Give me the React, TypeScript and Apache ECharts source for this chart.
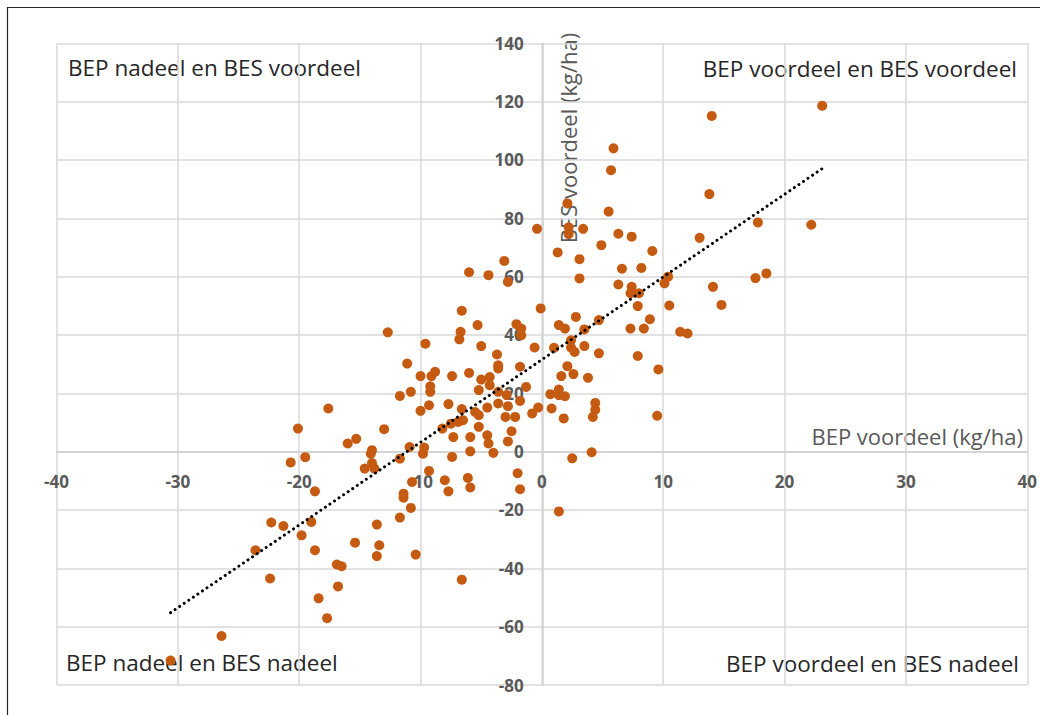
import React, { useEffect, useRef } from "react";
import * as echarts from "echarts";

// BEP voordeel (kg/ha) per point
const bepVoordeel: number[] = [
  23.1, 14.0, 5.9, 5.7, 13.8, 2.1, 5.5, -0.4, 2.2, 2.2, 3.4, 6.3, 7.4, 13.0, 4.9, 1.3, 9.1, 3.1, -3.1, 17.8,
  22.2, 17.6, 18.5, 14.8, 6.6, 8.2, 3.1, -4.4, -2.8, 10.4, 10.1, 14.1, 6.3, 7.4, 7.3, 8.0, 7.9, 10.5, -0.1, 8.9,
  2.8, 4.7, -2.1, 1.4, 1.9, -1.7, 3.5, -1.7, 7.3, 8.4, 11.4, 12.0, -0.6, 1.0, 2.4, 2.4, 2.7, 3.5, 4.7, 7.9,
  -3.7, -3.6, -3.6, -1.8, 2.1, 2.6, 1.6, 3.8, 9.6, -4.3, -1.3, -4.3, -3.6, 0.7, 1.4, 1.4, 1.9, -2.9, -1.8, -3.6,
  -2.8, -0.3, 0.8, -0.8, 4.4, 4.4, 4.2, 9.5, 1.8, -3.0, -2.2, -6.0, -6.6, -5.3, -6.7, -6.8, -12.7, -9.6, -5.0, -11.1,
  -10.0, -9.1, -8.8, -7.4, -6.0, -5.0, -9.2, -9.2, -11.7, -10.8, -5.2, -17.6, -10.0, -9.3, -7.7, -6.6, -5.5, -5.2, -4.5, -20.1,
  -13.0, -16.0, -15.3, -14.0, -14.1, -20.7, -19.5, -14.0, -14.6, -13.8, -11.7, -10.9, -9.8, -9.7, -8.2, -7.5, -6.9, -6.5, -5.2, -7.3,
  -5.9, -4.5, -4.4, -4.0, -5.9, -7.4, -9.3, -10.7, -8.0, -7.7, -6.1, -5.9, -18.7, -11.4, -11.4, -10.8, -11.7, -22.3, -21.3, -19.0,
  -19.8, -13.6, -18.7, -15.4, -13.4, -13.6, -10.4, -16.9, -16.5, -6.6, -22.4, -23.6, -16.8, -18.4, -17.7, -26.4, -30.6, -2.0, -1.8, 2.5,
  4.1, 1.4, -2.8, -2.5,
];

// BES voordeel (kg/ha) per point
const besVoordeel: number[] = [
  118.6, 115.1, 104.0, 96.5, 88.3, 85.1, 82.3, 76.4, 76.9, 74.6, 76.4, 74.7, 73.7, 73.3, 70.8, 68.3, 68.8, 66.0, 65.4, 78.6,
  77.8, 59.5, 61.1, 50.3, 62.7, 63.0, 59.4, 60.5, 58.2, 60.0, 57.7, 56.5, 57.3, 56.5, 54.3, 54.3, 49.9, 50.1, 49.1, 45.4,
  46.2, 45.1, 43.7, 43.4, 42.2, 42.2, 41.9, 39.9, 42.2, 42.2, 41.1, 40.5, 35.7, 35.6, 38.2, 35.7, 34.2, 36.2, 33.7, 32.8,
  33.3, 29.6, 28.5, 29.1, 29.3, 26.6, 25.9, 25.3, 28.2, 25.6, 22.2, 22.8, 20.5, 19.7, 21.3, 19.4, 19.0, 19.4, 17.4, 16.5,
  15.6, 15.1, 14.8, 13.1, 16.7, 14.4, 11.9, 12.3, 11.4, 11.9, 11.9, 61.5, 48.3, 43.4, 41.1, 38.5, 40.9, 37.0, 36.2, 30.2,
  25.9, 25.9, 27.4, 25.9, 27.0, 24.7, 22.4, 20.5, 19.1, 20.5, 21.1, 14.8, 14.0, 15.9, 16.3, 14.6, 13.6, 12.5, 15.1, 7.9,
  7.7, 2.8, 4.4, 0.5, -0.7, -3.7, -1.9, -3.9, -5.8, -5.8, -2.4, 1.6, -0.7, 1.4, 7.9, 9.6, 10.2, 10.8, 8.5, 5.0,
  5.0, 5.6, 2.8, -0.4, 0.1, -1.8, -6.6, -10.4, -9.8, -13.6, -9.0, -12.3, -13.6, -14.4, -15.8, -19.3, -22.6, -24.3, -25.5, -24.1,
  -28.7, -25.0, -33.8, -31.2, -32.1, -35.8, -35.3, -38.7, -39.3, -43.9, -43.5, -33.8, -46.2, -50.3, -57.1, -63.2, -71.6, -7.4, -12.9, -2.3,
  -0.2, -20.5, 3.5, 7.0,
];

// Linear trend line end points [BEP, BES]
const trendStart: number[] = [-30.6, -55.2];
const trendEnd: number[] = [23.3, 97.6];

const xTicks = { min: -40, max: 40, step: 10 };
const yTicks = { min: -80, max: 140, step: 20 };

const xTitle = "BEP voordeel (kg/ha)";
const yTitle = "BES voordeel (kg/ha)";
const quadrantLabels: string[] = [
  "BEP nadeel en BES voordeel",
  "BEP voordeel en BES voordeel",
  "BEP nadeel en BES nadeel",
  "BEP voordeel en BES nadeel",
];

export default function App() {
  const ref = useRef<HTMLDivElement>(null);

  useEffect(() => {
    if (!ref.current) return;
    const chart = echarts.init(ref.current, null, { renderer: "svg" });
    const points = bepVoordeel.map((x, i) => [x, besVoordeel[i]]);
    const font = "'Open Sans', sans-serif";
    const labelStyle = {
      color: "#595959",
      fontSize: 17,
      fontWeight: "bold" as const,
      fontFamily: font,
    };
    const gridColor = "#d9d9d9";
    const gridLeft = 56.5;
    const gridRight = 11;
    const gridTop = 43.3;
    const gridBottom = 30;
    const plotW = 1040 - gridLeft - gridRight;
    const plotH = 715 - gridTop - gridBottom;
    // shift axes so they sit on the zero lines (labels follow)
    const xAxisOffset = -plotH * ((0 - yTicks.min) / (yTicks.max - yTicks.min));
    const yAxisOffset = -plotW * ((0 - xTicks.min) / (xTicks.max - xTicks.min));

    chart.setOption({
      animation: false,
      backgroundColor: "#ffffff",
      grid: { left: gridLeft, right: gridRight, top: gridTop, bottom: gridBottom, containLabel: false },
      xAxis: {
        type: "value",
        position: "bottom",
        offset: xAxisOffset,
        min: xTicks.min,
        max: xTicks.max,
        interval: xTicks.step,
        axisLine: { onZero: false, lineStyle: { color: "#d0d0d0", width: 1.5 } },
        axisTick: { show: false },
        axisLabel: { ...labelStyle, margin: 21 },
        splitLine: { show: true, lineStyle: { color: gridColor, width: 1.5 } },
      },
      yAxis: {
        type: "value",
        position: "left",
        offset: yAxisOffset,
        min: yTicks.min,
        max: yTicks.max,
        interval: yTicks.step,
        axisLine: { onZero: false, lineStyle: { color: "#d0d0d0", width: 1.5 } },
        axisTick: { show: false },
        axisLabel: { ...labelStyle, margin: 19 },
        splitLine: { show: true, lineStyle: { color: gridColor, width: 1.5 } },
      },
      series: [
        {
          type: "scatter",
          data: points,
          symbol: "circle",
          symbolSize: 10,
          itemStyle: { color: "#C55A11", opacity: 1 },
          z: 3,
        },
        {
          type: "line",
          data: [trendStart, trendEnd],
          symbol: "none",
          lineStyle: { color: "#000000", width: 3, type: [0.01, 5.5], cap: "round" },
          z: 4,
        },
      ],
      graphic: [
        {
          type: "rect",
          shape: { x: 7.5, y: 7.5, width: 1100, height: 800 },
          style: { fill: "none", stroke: "#262626", lineWidth: 1.2 },
          silent: true,
        },
        {
          type: "text",
          x: 68,
          y: 67,
          style: { text: quadrantLabels[0], fill: "#262626", fontSize: 22.5, fontFamily: font, verticalAlign: "middle", align: "left" },
        },
        {
          type: "text",
          x: 1017,
          y: 68,
          style: { text: quadrantLabels[1], fill: "#262626", fontSize: 22.5, fontFamily: font, verticalAlign: "middle", align: "right" },
        },
        {
          type: "text",
          x: 66,
          y: 662,
          style: { text: quadrantLabels[2], fill: "#262626", fontSize: 22.5, fontFamily: font, verticalAlign: "middle", align: "left" },
        },
        {
          type: "text",
          x: 1019,
          y: 663,
          style: { text: quadrantLabels[3], fill: "#262626", fontSize: 22.5, fontFamily: font, verticalAlign: "middle", align: "right" },
        },
        {
          type: "text",
          x: 1023,
          y: 436,
          style: { text: xTitle, fill: "#595959", fontSize: 22, fontFamily: font, verticalAlign: "middle", align: "right" },
        },
        {
          type: "text",
          x: 568,
          y: 138,
          rotation: Math.PI / 2,
          style: { text: yTitle, fill: "#595959", fontSize: 22, fontFamily: font, verticalAlign: "middle", align: "center" },
        },
      ],
    });
    return () => chart.dispose();
  }, []);

  return (
    <div
      ref={ref}
      style={{ position: "fixed", left: 0, top: 0, width: 1040, height: 715, background: "#fff" }}
    />
  );
}
